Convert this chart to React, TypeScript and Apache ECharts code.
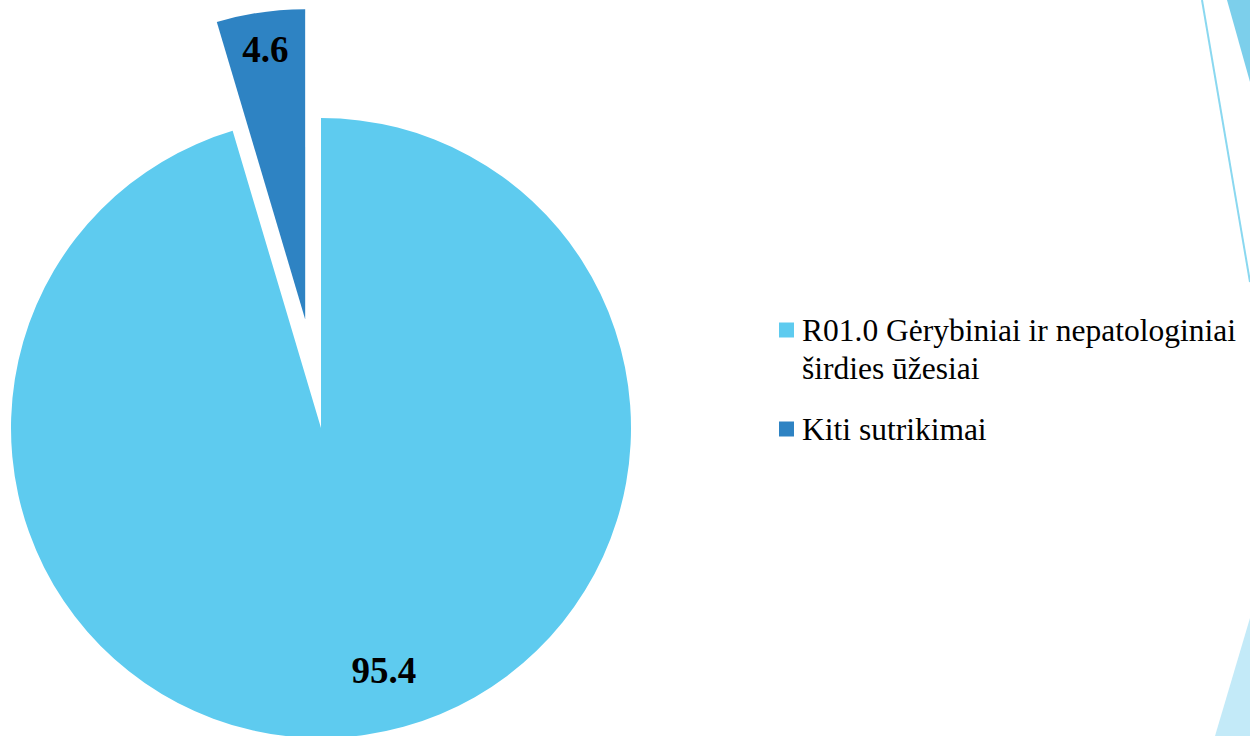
import React, { useEffect, useRef } from "react";
import * as echarts from "echarts";

const categories = ["R01.0 Gėrybiniai ir nepatologiniai širdies ūžesiai", "Kiti sutrikimai"];
const legendLines = [["R01.0 Gėrybiniai ir nepatologiniai", "širdies ūžesiai"], ["Kiti sutrikimai"]];
const values = [95.4, 4.6];
const colors = ["#5ECBEF", "#2E83C3"];
const FONT = "Liberation Serif";

export default function App() {
  const ref = useRef<HTMLDivElement>(null);
  useEffect(() => {
    const chart = echarts.init(ref.current!, null, { renderer: "svg" });
    const legendText = {
      fontSize: 31.5,
      fontFamily: FONT,
      color: "#000",
      lineHeight: 38,
      rich: { t: { fontSize: 31.5, fontFamily: FONT, color: "#000", lineHeight: 38, padding: [0, 0, 0, 3] } },
    };
    const legendBase = {
      orient: "vertical",
      left: 779,
      icon: "rect",
      itemWidth: 15,
      itemHeight: 15,
      selectedMode: false,
      padding: 0,
      textStyle: legendText,
    };
    chart.setOption({
      animation: false,
      backgroundColor: "#ffffff",
      textStyle: { fontFamily: FONT },
      legend: [
        {
          ...legendBase,
          top: 273,
          data: [categories[0]],
          formatter: () => ["{t| }", ...legendLines[0].map((l) => "{t|" + l + "}")].join("\n"),
        },
        {
          ...legendBase,
          top: 410,
          data: [categories[1]],
          formatter: () => legendLines[1].map((l) => "{t|" + l + "}").join("\n"),
        },
      ],
      graphic: [
        { type: "line", shape: { x1: 1202, y1: 0, x2: 1250, y2: 282 }, style: { stroke: "#8AD8F0", lineWidth: 2 } },
        { type: "polygon", shape: { points: [[1227, 0], [1250, 0], [1250, 82]] }, style: { fill: "#7CCFEB" } },
        { type: "polygon", shape: { points: [[1215, 736], [1250, 618], [1250, 736]] }, style: { fill: "#C3EAF8" } },
      ],
      series: [
        {
          type: "pie",
          center: [321, 428],
          radius: [0, 310],
          startAngle: 90,
          clockwise: true,
          selectedMode: "single",
          selectedOffset: 110,
          avoidLabelOverlap: false,
          labelLine: { show: false },
          emphasis: { disabled: true },
          itemStyle: { borderWidth: 0 },
          label: {
            show: true,
            position: "inside",
            formatter: "{c}",
            fontFamily: FONT,
            fontWeight: "bold",
            fontSize: 37,
            color: "#000",
          },
          data: [
            {
              name: categories[0],
              value: values[0],
              itemStyle: { color: colors[0] },
              label: { offset: [40, 86] },
            },
            {
              name: categories[1],
              value: values[1],
              selected: true,
              itemStyle: { color: colors[1] },
              label: { offset: [-17, -113] },
              select: { label: { offset: [-17, -113] } },
            },
          ],
        },
      ],
    });
    return () => chart.dispose();
  }, []);
  return (
    <div
      ref={ref}
      style={{ position: "fixed", left: 0, top: 0, width: 1250, height: 736 }}
    />
  );
}
